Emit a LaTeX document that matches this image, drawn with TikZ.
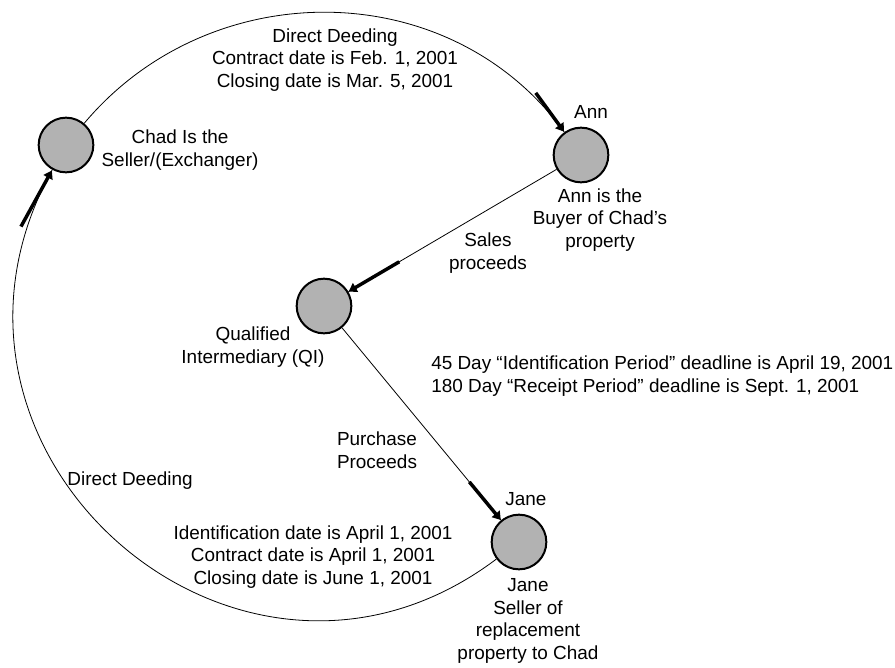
\documentclass[tikz,border=0pt]{standalone}
\usepackage{fontspec}
\setmainfont{Liberation Sans}
\usetikzlibrary{arrows.meta,decorations.markings}

\begin{document}
\begin{tikzpicture}[x=0.75pt,y=-0.75pt,
party/.style={circle,draw,line width=1.5pt,fill=black!30,minimum size=41pt,inner sep=0pt},
note/.style={align=center,inner sep=0pt,font=\fontsize{14.2}{16.9}\selectfont},
money/.style={line width=0.6pt,postaction={decorate},decoration={markings,mark=at position 0.999 with {\draw[line width=2.6pt,-{Triangle[length=6pt,width=7.5pt]}](-#1,0)--(0,0);}}}]
\useasboundingbox(0,0)rectangle(895,667);
\node(chad)at(66,145)[party]{};
\node(ann)at(581,155)[party]{};
\node(qi)at(324,306)[party]{};
\node(jane)at(519,542)[party]{};
\draw[money=36pt](chad)to[out=50,in=126,looseness=1.04](ann);
\draw[money=44pt](ann)--(qi);
\draw[money=37pt](qi)--(jane);
\draw[money=48pt](jane)to[out=217,in=241,looseness=1.4](chad);
\node(deedtop)at(335,60)[note]{Direct Deeding\\Contract date is Feb. 1, 2001\\Closing date is Mar. 5, 2001};
\node(chadtxt)at(180,150)[note]{Chad Is the\\Seller/(Exchanger)};
\node(anntop)at(591,112)[note]{Ann};
\node(anntxt)at(600,220)[note]{Ann is the\\Buyer of Chad’s\\property};
\node(sales)at(488,253)[note]{Sales\\proceeds};
\node(qitxt)at(253,347)[note]{Qualified\\Intermediary (QI)};
\node(periods)at(431,376)[note,anchor=west,align=left]{45 Day “Identification Period” deadline is April 19, 2001\\180 Day “Receipt Period” deadline is Sept. 1, 2001};
\node(purchase)at(377,450)[note]{Purchase\\Proceeds};
\node(deedleft)at(130,481)[note]{Direct Deeding};
\node(dates)at(313,557)[note]{Identification date is April 1, 2001\\Contract date is April 1, 2001\\Closing date is June 1, 2001};
\node(janetop)at(526,499)[note]{Jane};
\node(janetxt)at(528,621)[note]{Jane\\Seller of\\replacement\\property to Chad};
\end{tikzpicture}
\end{document}
